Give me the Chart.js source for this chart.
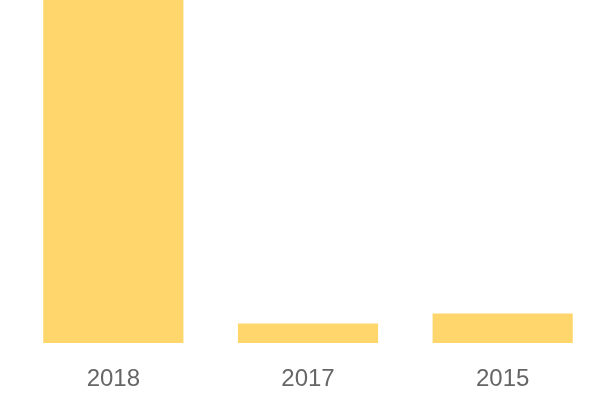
<!DOCTYPE html>
<html>
<head>
<meta charset="utf-8">
<script src="https://cdn.jsdelivr.net/npm/chart.js@4"></script>
<style>
    html, body { margin: 0; padding: 0; background: #fff; }
    #wrap { width: 600px; height: 400px; }
</style>
</head>
<body>
<div id="wrap"><canvas id="chart"></canvas></div>
<script>
const years = ["2018", "2017", "2015"];
const counts = [35, 2, 3];
const barColor = "#ffd66b";

const ctx = document.getElementById("chart").getContext("2d");
const chart = new Chart(ctx, {
    type: "bar",
    data: {
        labels: years,
        datasets: [
            {
                data: counts,
                backgroundColor: barColor,
                borderWidth: 0,
            },
        ],
    },
    options: {
        responsive: true,
        maintainAspectRatio: false,
        animation: false,
        layout: {
            padding: { left: 16, right: 0, top: 0, bottom: 0 },
        },
        plugins: {
            legend: { display: false },
            tooltip: { enabled: false },
        },
        scales: {
            x: {
                grid: { display: false },
                border: { display: false },
                ticks: {
                    color: "#666",
                    padding: 14,
                    maxRotation: 0,
                    font: { family: "'Liberation Sans', Arial, sans-serif", size: 24 },
                },
                // keep the axis band the same height as in the picture
                afterFit: function (axis) {
                    axis.height = 57;
                },
            },
            y: {
                display: false,
                min: 0,
                max: 35,
            },
        },
    },
});
</script>
</body>
</html>
